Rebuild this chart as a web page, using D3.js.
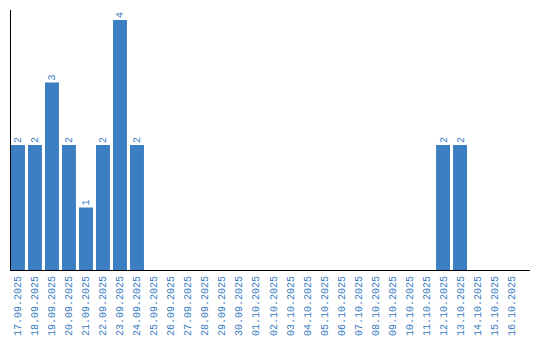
<!DOCTYPE html>
<html>
<head>
<meta charset="utf-8">
<script src="https://cdn.jsdelivr.net/npm/d3@7"></script>
<style>
    body { margin: 0; background: #fff; }
    text { font-family: "Liberation Mono", "DejaVu Sans Mono", monospace; font-size: 10px; fill: #3a7bbf; }
</style>
</head>
<body>
<div id="chart"></div>
<script>
    // dates and counts
    const dates = [
        '17.09.2025', '18.09.2025', '19.09.2025', '20.09.2025', '21.09.2025', '22.09.2025',
        '23.09.2025', '24.09.2025', '25.09.2025', '26.09.2025', '27.09.2025', '28.09.2025',
        '29.09.2025', '30.09.2025', '01.10.2025', '02.10.2025', '03.10.2025', '04.10.2025',
        '05.10.2025', '06.10.2025', '07.10.2025', '08.10.2025', '09.10.2025', '10.10.2025',
        '11.10.2025', '12.10.2025', '13.10.2025', '14.10.2025', '15.10.2025', '16.10.2025'
    ];
    const counts = [2, 2, 3, 2, 1, 2, 4, 2, 0, 0, 0, 0, 0, 0, 0, 0, 0, 0,
        0, 0, 0, 0, 0, 0, 0, 2, 2, 0, 0, 0];

    (function () {
        const data = dates.map((d, i) => ({ date: d, value: counts[i] }));

        const width = 540, height = 340;
        const margin = { top: 10, left: 11, bottom: 270, right: 530 };

        const svg = d3.select('#chart')
            .append('svg')
            .attr('width', width)
            .attr('height', height);

        const x = d3.scaleBand()
            .domain(dates)
            .range([margin.left, 518])
            .paddingInner(0.18)
            .paddingOuter(0);

        const y = d3.scaleLinear()
            .domain([0, 4])
            .range([margin.bottom, 20]);

        const nonZero = data.filter(d => d.value > 0);

        // bars
        svg.append('g')
            .selectAll('rect')
            .data(nonZero)
            .enter()
            .append('rect')
            .attr('x', d => x(d.date))
            .attr('y', d => y(d.value))
            .attr('width', x.bandwidth())
            .attr('height', d => y(0) - y(d.value))
            .attr('fill', '#3b7ec2');

        // value labels
        svg.append('g')
            .selectAll('text')
            .data(nonZero)
            .enter()
            .append('text')
            .attr('transform', d => `translate(${x(d.date) + x.bandwidth() / 2 + 3.5}, ${y(d.value) - 2}) rotate(-90)`)
            .attr('text-anchor', 'start')
            .text(d => d.value);

        // x axis labels
        const gx = svg.append('g')
            .attr('transform', `translate(0, ${margin.bottom})`)
            .call(d3.axisBottom(x).tickSize(0).tickPadding(0));
        gx.select('.domain').remove();
        gx.selectAll('text')
            .attr('y', 0)
            .attr('x', 0)
            .attr('dy', null)
            .attr('transform', 'translate(3.5, 6) rotate(-90)')
            .attr('text-anchor', 'end')
            .style('font-size', '10px')
            .style('font-family', '"Liberation Mono", "DejaVu Sans Mono", monospace')
            .attr('fill', '#3a7bbf');

        // axis lines
        svg.append('line')
            .attr('x1', margin.left - 0.5).attr('x2', margin.left - 0.5)
            .attr('y1', margin.top).attr('y2', margin.bottom)
            .attr('stroke', '#000');
        svg.append('line')
            .attr('x1', margin.left - 1).attr('x2', margin.right)
            .attr('y1', margin.bottom + 0.5).attr('y2', margin.bottom + 0.5)
            .attr('stroke', '#000');
    })();
</script>
</body>
</html>
